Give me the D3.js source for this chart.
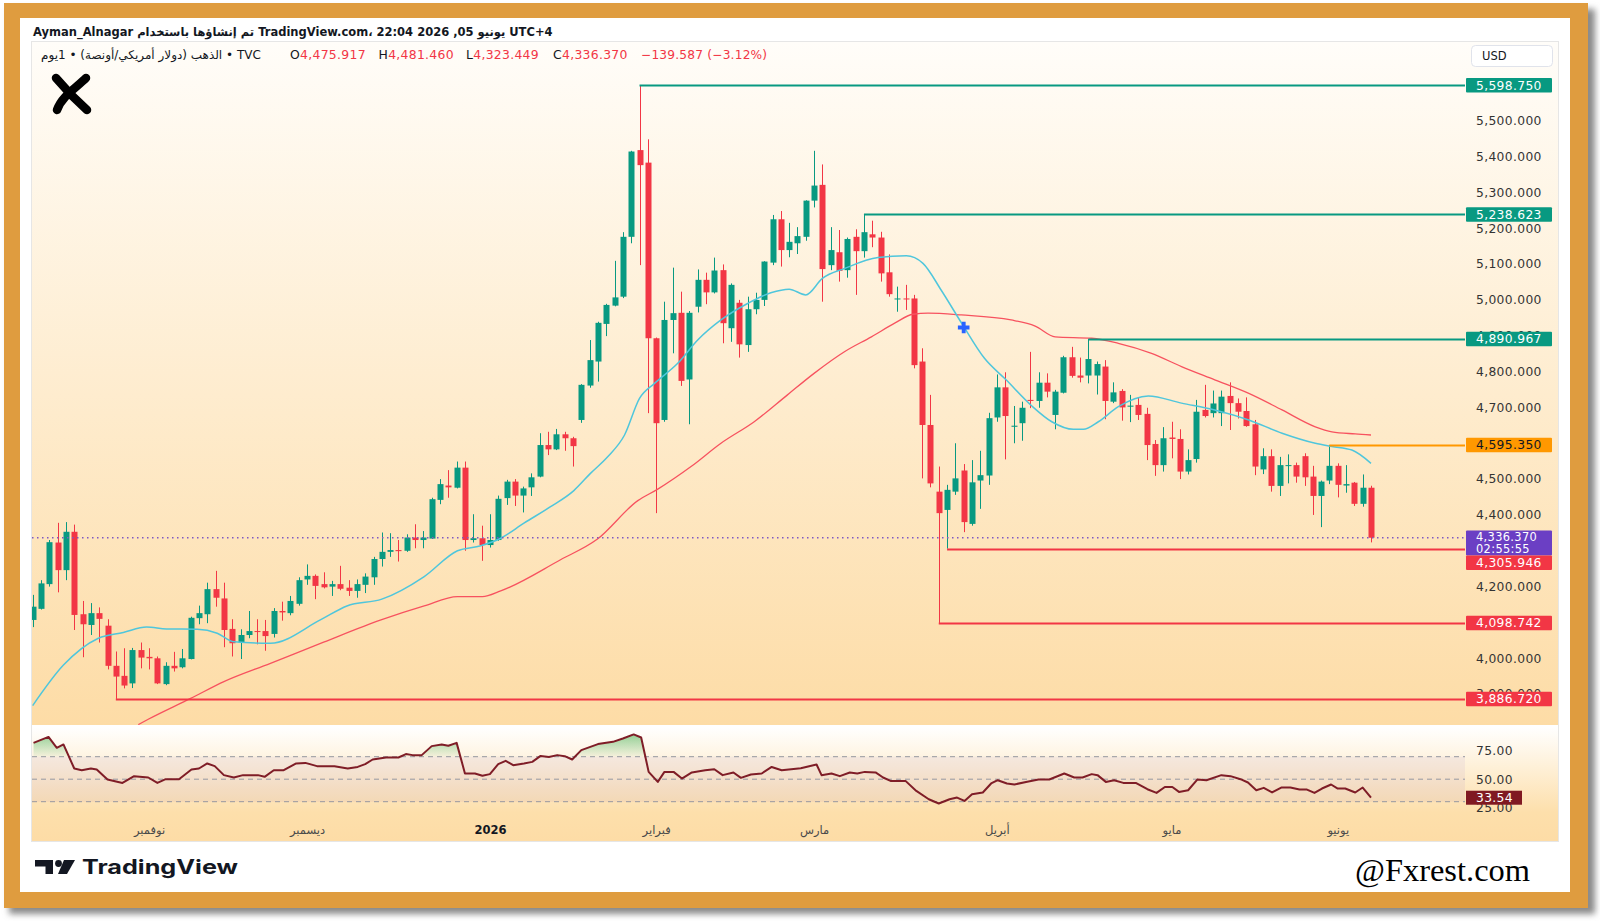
<!DOCTYPE html>
<html>
<head>
<meta charset="utf-8">
<script src="https://cdn.jsdelivr.net/npm/d3@7"></script>
<style>
  body { margin: 0; background: #fff; }
  svg { display: block; font-family: "DejaVu Sans", sans-serif; }
</style>
</head>
<body>
<svg id="chart" width="1600" height="921"></svg>
<script>
// Gold TVC daily candles (index 0 = first visible bar)
const opens = [4107,4138,4207,4323,4246,4353,4123,4093,4126,4091,
  3979,3951,3930,4023,4004,4000,3928,3979,3975,3998,
  4112,4123,4193,4167,4082,4044,4065,4076,4076,4068,
  4132,4126,4152,4220,4230,4207,4200,4207,4197,4188,
  4205,4226,4277,4297,4302,4300,4337,4330,4334,4442,
  4482,4476,4532,4330,4335,4316,4330,4447,4493,4454,
  4477,4507,4595,4583,4625,4614,4665,4761,4828,4933,
  4984,5009,5176,5418,5383,4893,4665,4944,4964,4778,
  4981,5056,5021,5083,4921,4992,4874,4974,5000,5104,
  5225,5139,5158,5176,5277,5321,5097,5133,5083,5176,
  5136,5183,5174,5077,5002,5004,5004,4828,4651,4465,
  4414,4465,4524,4375,4496,4510,4672,4756,4646,4656,
  4721,4718,4769,4679,4741,4840,4789,4789,4789,4814,
  4716,4746,4702,4707,4682,4598,4539,4616,4612,4521,
  4556,4693,4684,4684,4732,4712,4690,4653,4527,4564,
  4481,4537,4539,4564,4507,4453,4496,4537,4482,4490,
  4431,4475.917]
const highs = [4177,4218,4330,4378,4380,4373,4160,4154,4142,4109,
  4019,4028,4029,4044,4028,4005,3989,4018,4026,4116,
  4147,4211,4244,4211,4109,4081,4132,4109,4107,4140,
  4158,4174,4226,4262,4234,4240,4216,4258,4218,4220,
  4237,4283,4351,4349,4330,4346,4374,4355,4448,4500,
  4525,4549,4549,4402,4370,4402,4454,4498,4500,4479,
  4516,4628,4632,4640,4632,4618,4765,4888,4939,4989,
  5109,5189,5416,5598.75,5448,4895,4995,5090,5023,4969,
  5085,5076,5118,5099,5046,5000,5009,5020,5108,5237,
  5248,5215,5203,5278,5416,5378,5203,5195,5174,5197,
  5238.623,5221,5190,5127,5037,5042,5014,4865,4735,4535,
  4484,4600,4542,4553,4579,4685,4792,4798,4704,4716,
  4855,4798,4795,4749,4844,4869,4839,4890.967,4828,4832,
  4770,4751,4735,4728,4699,4609,4645,4660,4639,4583,
  4721,4763,4747,4747,4770,4725,4728,4665,4586,4583,
  4562,4569,4546,4572,4537,4496,4595.35,4544,4539,4492,
  4513,4481.46]
const lows = [4087,4136,4200,4184,4218,4079,4003,4065,4044,3969,
  3886.72,3916,3917,3972,3969,3928,3925,3963,3972,3997,
  4095,4098,4144,4031,4005,3998,4056,4039,4021,4058,
  4105,4120,4147,4205,4165,4195,4174,4190,4174,4169,
  4182,4205,4256,4283,4270,4297,4307,4307,4333,4430,
  4448,4474,4300,4323,4272,4309,4328,4428,4425,4407,
  4453,4505,4567,4581,4579,4535,4657,4755,4772,4899,
  4982,5005,5158,5097,4684,4405,4660,4851,4760,4653,
  4965,4988,5018,4879,4883,4839,4855,4960,4983,5097,
  5093,5119,5128,5165,5258,4995,5083,5051,5062,5014,
  5118,5147,5051,5009,4967,4972,4809,4502,4477,4098.742,
  4305.946,4456,4352,4370,4417,4484,4660,4555,4600,4607,
  4698,4699,4728,4639,4739,4783,4770,4767,4736,4667,
  4712,4663,4659,4665,4553,4509,4521,4558,4500,4513,
  4546,4672,4672,4648,4637,4669,4646,4511,4514,4465,
  4453,4488,4490,4481,4400,4366,4486,4449,4462,4425,
  4423,4323.449]
const closes = [4144,4209,4324,4246,4353,4121,4095,4126,4110,3979,
  3949,3924,4023,4002,4000,3930,3979,3972,4000,4113,
  4126,4193,4169,4079,4042,4065,4076,4074,4062,4132,
  4128,4160,4218,4230,4202,4198,4207,4194,4188,4207,
  4228,4277,4297,4302,4299,4337,4330,4337,4444,4486,
  4477,4532,4330,4335,4316,4330,4445,4493,4454,4474,
  4505,4595,4583,4625,4614,4592,4763,4832,4936,4986,
  5007,5176,5414,5376,4893,4656,4944,4963,4774,4964,
  5056,5021,5082,4935,5042,4876,4974,5000,5107,5225,
  5139,5162,5178,5277,5319,5086,5139,5081,5170,5136,
  5189,5174,5074,5016,5004,5002,4818,4651,4488,4405,
  4470,4502,4380,4491,4511,4670,4756,4676,4649,4699,
  4718,4769,4744,4744,4840,4788,4783,4835,4821,4718,
  4742,4700,4705,4679,4595,4539,4614,4612,4521,4553,
  4688,4676,4711,4730,4712,4688,4648,4535,4564,4481,
  4539,4539,4507,4505,4453,4493,4537,4484,4486,4431,
  4475.957,4336.37]

// moving averages as [bar index, value]
const ma_fast = [[0,3868],[3.7,3981],[7.9,4056],[10.9,4072],[13.7,4087],[16.1,4082],[19.8,4081],[22.2,4070],
  [24.2,4046],[28.6,4042],[34.6,4107],[37.8,4146],[42,4165],[47.1,4228],[51.1,4300],[53.9,4314],[56.3,4335],
  [59.1,4377],[62.3,4423],[65.1,4468],[67.1,4516],[69.2,4563],[71.2,4623],[73,4725],[74.8,4767],[77.6,4823],
  [80,4888],[82.8,4944],[86,4990],[88.8,5020],[91,5030],[93,5014],[95,5060],[97.7,5088],[101.7,5118],
  [105.1,5123],[107.1,5102],[109.3,5027],[111.7,4937],[114.5,4837],[117.1,4777],[120.2,4704],[122.6,4660],
  [125.2,4639],[126.4,4639],[128.2,4660],[130.6,4702],[134.2,4732],[138.2,4712],[142.2,4693],[146.3,4665],
  [150.3,4628],[154.3,4600],[156.3,4591],[158.7,4581],[161,4544]]
const ma_slow = [[12.7,3815],[13.9,3830],[19,3888],[23,3935],[28.6,3986],[35,4045],[41.9,4107],[47.1,4146],
  [51.1,4172],[54.1,4172],[56.3,4188],[63.5,4275],[67.9,4332],[72.8,4440],[75.2,4472],[79.2,4535],[82.8,4600],
  [86.8,4660],[90.8,4735],[94,4795],[97.7,4856],[100.9,4897],[103.7,4935],[105.9,4960],[107.7,4963],
  [111.7,4958],[117.7,4944],[120.6,4927],[123,4897],[127.4,4893],[130.6,4879],[134.6,4851],[138.2,4814],
  [142.2,4777],[146.3,4739],[150.3,4693],[154.3,4646],[156.3,4632],[159.1,4626],[161,4623]]

// RSI as [bar index, value]
const rsi = [[0.1,82.3],[1.9,87.6],[2.9,77.9],[3.7,80.9],[5,59.5],[5.9,58],[7,59.5],[7.7,58.6],[9,49.7],
  [10.8,46.7],[12.2,52.7],[13.9,51.5],[15,46.7],[16,50],[17.6,50],[19.1,58.6],[20,59.5],[21,64],[21.9,61.6],
  [23,53.6],[24.2,51.5],[25.3,53.6],[27.1,53.6],[27.9,52.1],[29,58],[30.2,58],[31.7,64],[32.8,64.5],
  [34.2,61.6],[36.3,61.6],[37.9,59.5],[39.1,60.9],[40,63.4],[40.9,67.5],[42.5,69.3],[44,69.3],[44.9,72.3],
  [45.7,71.4],[46.8,71.4],[48,79.4],[49.2,80.9],[50,79.7],[51,82.3],[52,55.1],[53.2,55.1],[54.1,53],
  [55,54.5],[56,63.4],[56.9,66.3],[57.8,62.5],[59.1,64],[60.1,65.4],[61.1,70.7],[62.1,69.8],[63.1,71.4],
  [64,70.5],[64.9,67.5],[66,75.8],[68,81.2],[69.8,83.2],[71,86.2],[72.3,89.8],[73.2,87.1],[74.1,56.5],
  [75.2,47.6],[76,56.5],[77.1,56.5],[78.1,50.6],[79.3,56],[80.9,58],[82,58.9],[83,53.6],[84.3,56],
  [85.2,51.2],[86.4,54.2],[87.7,55.1],[88.9,60.9],[90.1,58],[92.4,59.8],[94.3,63.1],[94.9,53.6],[96.1,55.1],
  [97.1,52.7],[98.3,56],[99.2,55.1],[100.1,56.5],[101.4,56],[102.3,51.5],[103.2,48.5],[105,48.5],
  [106.3,39.6],[107.8,32.2],[109,28.4],[110.3,32.2],[111.2,33.7],[112.1,30.7],[113,36.6],[114.3,38.2],
  [115.3,46.2],[116.1,49.1],[117.2,46.2],[118.1,45.3],[119.5,47.6],[121,49.7],[122.3,49.7],[124.1,55.1],
  [125.3,51.5],[126.3,51.5],[127.4,54.5],[128.1,53.6],[129.1,47.6],[130.1,49.1],[131.2,46.7],[132.7,46.7],
  [134.1,41.1],[135.2,37.8],[136.2,43.1],[137.1,43.1],[137.9,38.7],[139,40.2],[140.1,49.7],[141.2,49.1],
  [143,53.6],[144.1,52.7],[145.3,50],[146.2,47.1],[147.2,40.2],[148.1,42.3],[149.1,38.2],[150.2,42.6],
  [151.3,42.6],[152.4,40.8],[153.3,40.8],[154.2,37.8],[155.1,41.7],[156.2,45.3],[157,41.7],[157.9,41.7],
  [159.1,38.2],[160,42.6],[161,33.54]]

// horizontal levels drawn on the chart
const level_prices = [5598.75, 5238.623, 4890.967, 4595.35, 4305.946, 4098.742, 3886.72]
const level_start = [73, 100, 127, 156, 110, 109, 10]
const level_type = ['high', 'high', 'high', 'mid', 'low', 'low', 'low']

// price ticks that show on the axis (the rest sit under the level labels)
const price_ticks = [3900,4000,4200,4400,4500,4700,4800,4900,5000,5100,5200,5300,5400,5500]
const rsi_ticks = [25, 50, 75]
const rsi_bands = [70, 50, 30]
const month_idx = [14, 33, 55, 75, 94, 116, 137, 157]
const month_labels = ['نوفمبر', 'ديسمبر', '2026', 'فبراير', 'مارس', 'أبريل', 'مايو', 'يونيو']
const cross_point = [112, 4923]
const countdown = '02:55:55'

const up = '#089981', down = '#F23645'
const level_color = { high: '#089981', mid: '#FF9800', low: '#F23645' }

const svg = d3.select('#chart')
const defs = svg.append('defs')

const plot = { left: 32, right: 1465, top: 42, bottom: 725 }
const x = d3.scaleLinear().domain([0, 161]).range([32.7, 1371])
const y = d3.scaleLinear().domain([4000, 5500]).range([658.3, 120.7])
const y_rsi = d3.scaleLinear().domain([30, 70]).range([801.7, 756.7])
const fmt = d3.format(',.3f')

// ---- frame ----
defs.append('filter').attr('id', 'shadow').attr('x', -0.05).attr('y', -0.05).attr('width', 1.1).attr('height', 1.1)
  .append('feGaussianBlur').attr('stdDeviation', 3)
svg.append('rect').attr('x', 9).attr('y', 9).attr('width', 1586).attr('height', 905)
  .attr('fill', '#8a8a8a').attr('filter', 'url(#shadow)')
svg.append('rect').attr('x', 4).attr('y', 3).attr('width', 1584).attr('height', 905).attr('fill', '#DF9C3F')
svg.append('rect').attr('x', 20).attr('y', 18).attr('width', 1550).attr('height', 874).attr('fill', '#fff')

// ---- pane backgrounds ----
const g1 = defs.append('linearGradient').attr('id', 'price_bg').attr('x1', 0).attr('y1', 0).attr('x2', 0).attr('y2', 1)
g1.append('stop').attr('offset', 0).attr('stop-color', '#FFFDF9')
g1.append('stop').attr('offset', 1).attr('stop-color', '#FDDCA6')
const g2 = defs.append('linearGradient').attr('id', 'rsi_bg').attr('x1', 0).attr('y1', 0).attr('x2', 0).attr('y2', 1)
g2.append('stop').attr('offset', 0).attr('stop-color', '#FFFFFF')
g2.append('stop').attr('offset', 0.75).attr('stop-color', '#FDDFAB')
g2.append('stop').attr('offset', 1).attr('stop-color', '#FDDCA6')

svg.append('rect').attr('x', 32).attr('y', 42).attr('width', 1526).attr('height', 683).attr('fill', 'url(#price_bg)')
svg.append('rect').attr('x', 32).attr('y', 727).attr('width', 1526).attr('height', 114).attr('fill', 'url(#rsi_bg)')
svg.append('rect').attr('x', 31.5).attr('y', 41.5).attr('width', 1527).attr('height', 800)
  .attr('fill', 'none').attr('stroke', '#E6E6E6')

defs.append('clipPath').attr('id', 'price_clip').append('rect')
  .attr('x', plot.left).attr('y', plot.top).attr('width', plot.right - plot.left).attr('height', plot.bottom - plot.top)
defs.append('clipPath').attr('id', 'rsi_clip').append('rect')
  .attr('x', plot.left).attr('y', 727).attr('width', plot.right - plot.left).attr('height', 90)

// ---- candles ----
const bars = closes.map((c, i) => ({ i, open: opens[i], high: highs[i], low: lows[i], close: c }))
const price_g = svg.append('g').attr('clip-path', 'url(#price_clip)')

price_g.append('g').selectAll('line').data(bars).join('line')
  .attr('x1', d => Math.round(x(d.i)) + 0.5).attr('x2', d => Math.round(x(d.i)) + 0.5)
  .attr('y1', d => y(d.high)).attr('y2', d => y(d.low))
  .attr('stroke', d => d.close >= d.open ? up : down)
  .attr('stroke-width', 1)
price_g.append('g').selectAll('rect').data(bars).join('rect')
  .attr('x', d => Math.round(x(d.i)) - 2.5).attr('width', 6)
  .attr('y', d => y(Math.max(d.open, d.close)))
  .attr('height', d => Math.max(1, Math.abs(y(d.open) - y(d.close))))
  .attr('fill', d => d.close >= d.open ? up : down)

// ---- moving averages ----
const ma_line = d3.line().x(d => x(d[0])).y(d => y(d[1])).curve(d3.curveMonotoneX)
price_g.append('path').datum(ma_slow).attr('d', ma_line)
  .attr('fill', 'none').attr('stroke', '#F7525F').attr('stroke-width', 1.3)
price_g.append('path').datum(ma_fast).attr('d', ma_line)
  .attr('fill', 'none').attr('stroke', '#4FC6DC').attr('stroke-width', 1.5)

// ---- levels ----
level_prices.forEach((p, k) => {
  price_g.append('line')
    .attr('x1', x(level_start[k])).attr('x2', plot.right)
    .attr('y1', Math.round(y(p)) + 0.5).attr('y2', Math.round(y(p)) + 0.5)
    .attr('stroke', level_color[level_type[k]]).attr('stroke-width', 2)
})

// current price dotted line
const last = bars[bars.length - 1]
price_g.append('line')
  .attr('x1', plot.left).attr('x2', plot.right)
  .attr('y1', y(last.close)).attr('y2', y(last.close))
  .attr('stroke', '#7E57C2').attr('stroke-width', 1.3).attr('stroke-dasharray', '1.5,3.5')

// blue cross drawing
price_g.append('path')
  .attr('d', d3.symbol(d3.symbolCross, 75)())
  .attr('transform', `translate(${x(cross_point[0])},${y(cross_point[1])})`)
  .attr('fill', '#2962FF')

// ---- price axis ----
const axis_x = 1476
svg.append('g')
  .selectAll('text').data(price_ticks).join('text')
  .attr('x', axis_x).attr('y', d => y(d)).attr('dy', '0.35em')
  .attr('font-size', 12.3).attr('letter-spacing', 0.35).attr('fill', '#333')
  .text(d => fmt(d))

// labels with simple overlap push-down
const labels = level_prices.map((p, k) => ({ y: y(p), lines: [fmt(p)], fill: level_color[level_type[k]],
  color: level_type[k] === 'mid' ? '#131722' : '#fff' }))
labels.push({ y: y(last.close), lines: [fmt(last.close), countdown], fill: '#6B3FC4', color: '#fff' })
labels.sort((a, b) => a.y - b.y)
let prev_bottom = -Infinity
labels.forEach(l => {
  const h = l.lines.length === 1 ? 14.5 : 25
  l.top = Math.max(l.y - 7.2, prev_bottom)
  l.h = h
  prev_bottom = l.top + h
})
const lab_g = svg.append('g')
labels.forEach(l => {
  lab_g.append('rect').attr('x', 1466).attr('y', l.top).attr('width', 86).attr('height', l.h)
    .attr('fill', l.fill).attr('rx', 1)
  const two = l.lines.length > 1
  l.lines.forEach((t, j) => {
    lab_g.append('text').attr('x', axis_x).attr('y', l.top + (two ? 6.6 + j * 12 : 7.2)).attr('dy', '0.35em')
      .attr('font-size', two ? 11.4 : 12.3).attr('letter-spacing', 0.35).attr('fill', l.color).text(t)
  })
})

// USD box
svg.append('rect').attr('x', 1471.5).attr('y', 45.5).attr('width', 81).attr('height', 21).attr('rx', 4)
  .attr('fill', '#fff').attr('stroke', '#E0E3EB')
svg.append('text').attr('x', 1482).attr('y', 60).attr('font-size', 11.5).attr('fill', '#131722').text('USD')

// ---- RSI pane ----
const rsi_g = svg.append('g').attr('clip-path', 'url(#rsi_clip)')
rsi_g.append('rect').attr('x', plot.left).attr('width', plot.right - plot.left)
  .attr('y', y_rsi(70)).attr('height', y_rsi(30) - y_rsi(70))
  .attr('fill', '#7E57C2').attr('fill-opacity', 0.08)
rsi_g.selectAll('line.band').data(rsi_bands).join('line')
  .attr('x1', plot.left).attr('x2', plot.right)
  .attr('y1', d => y_rsi(d)).attr('y2', d => y_rsi(d))
  .attr('stroke', '#9598A1').attr('stroke-dasharray', '5,4').attr('stroke-width', 1)

const gg = defs.append('linearGradient').attr('id', 'ob_fill').attr('gradientUnits', 'userSpaceOnUse')
  .attr('x1', 0).attr('x2', 0).attr('y1', y_rsi(90)).attr('y2', y_rsi(70))
gg.append('stop').attr('offset', 0).attr('stop-color', '#4CAF50').attr('stop-opacity', 0.6)
gg.append('stop').attr('offset', 1).attr('stop-color', '#4CAF50').attr('stop-opacity', 0.05)
const gr = defs.append('linearGradient').attr('id', 'os_fill').attr('gradientUnits', 'userSpaceOnUse')
  .attr('x1', 0).attr('x2', 0).attr('y1', y_rsi(30)).attr('y2', y_rsi(20))
gr.append('stop').attr('offset', 0).attr('stop-color', '#F23645').attr('stop-opacity', 0.05)
gr.append('stop').attr('offset', 1).attr('stop-color', '#F23645').attr('stop-opacity', 0.6)
defs.append('clipPath').attr('id', 'ob_clip').append('rect')
  .attr('x', plot.left).attr('y', 700).attr('width', plot.right - plot.left).attr('height', y_rsi(70) - 700)
defs.append('clipPath').attr('id', 'os_clip').append('rect')
  .attr('x', plot.left).attr('y', y_rsi(30)).attr('width', plot.right - plot.left).attr('height', 40)

const area_ob = d3.area().x(d => x(d[0])).y0(y_rsi(70)).y1(d => y_rsi(d[1]))
const area_os = d3.area().x(d => x(d[0])).y0(y_rsi(30)).y1(d => y_rsi(d[1]))
rsi_g.append('g').attr('clip-path', 'url(#ob_clip)').append('path').datum(rsi).attr('d', area_ob).attr('fill', 'url(#ob_fill)')
rsi_g.append('g').attr('clip-path', 'url(#os_clip)').append('path').datum(rsi).attr('d', area_os).attr('fill', 'url(#os_fill)')

rsi_g.append('path').datum(rsi)
  .attr('d', d3.line().x(d => x(d[0])).y(d => y_rsi(d[1])))
  .attr('fill', 'none').attr('stroke', '#7F1D27').attr('stroke-width', 2).attr('stroke-linejoin', 'round')

svg.append('g').selectAll('text').data(rsi_ticks).join('text')
  .attr('x', axis_x).attr('y', d => y_rsi(d)).attr('dy', '0.35em')
  .attr('font-size', 12.3).attr('letter-spacing', 0.35).attr('fill', '#333')
  .text(d => d3.format('.2f')(d))
const rsi_last = rsi[rsi.length - 1][1]
svg.append('rect').attr('x', 1466).attr('y', y_rsi(rsi_last) - 7).attr('width', 56).attr('height', 14)
  .attr('fill', '#801922')
svg.append('text').attr('x', axis_x).attr('y', y_rsi(rsi_last)).attr('dy', '0.35em')
  .attr('font-size', 12.3).attr('letter-spacing', 0.35).attr('fill', '#fff').text(d3.format('.2f')(rsi_last))

// ---- time axis ----
const x_axis = d3.axisBottom(x).tickValues(month_idx).tickFormat((d, i) => month_labels[i]).tickSize(0).tickPadding(0)
const xg = svg.append('g').attr('transform', 'translate(0,826)').call(x_axis)
xg.select('.domain').remove()
xg.selectAll('text').attr('font-size', 11.5).attr('font-family', '"DejaVu Sans", sans-serif')
  .attr('fill', (d, i) => month_labels[i] === '2026' ? '#131722' : '#4A4A4A')
  .attr('font-weight', (d, i) => month_labels[i] === '2026' ? 'bold' : 'normal')

// ---- header ----
svg.append('text').attr('x', 33).attr('y', 35.5).attr('font-size', 11.5).attr('fill', '#131722')
  .attr('font-weight', 'bold')
  .text('Ayman_Alnagar تم إنشاؤها باستخدام TradingView.com، 22:04 2026 ,05 يونيو UTC+4')

svg.append('text').attr('x', 41).attr('y', 58.5).attr('font-size', 12).attr('fill', '#131722')
  .text('الذهب (دولار أمريكي/أونصة) • 1يوم • TVC')
const ohlc = [['O', last.open, 290], ['H', last.high, 378.5], ['L', last.low, 466], ['C', last.close, 553]]
ohlc.forEach(([k, v, px]) => {
  const t = svg.append('text').attr('x', px).attr('y', 58.5).attr('font-size', 12.4).attr('letter-spacing', 0.3)
  t.append('tspan').attr('fill', '#131722').text(k)
  t.append('tspan').attr('fill', down).text(fmt(v))
})
const change = last.close - bars[bars.length - 2].close
const pct = change / bars[bars.length - 2].close
svg.append('text').attr('x', 641).attr('y', 58.5).attr('font-size', 12.2).attr('letter-spacing', 0.2).attr('fill', down)
  .text(`${fmt(change).replace('-', '−')} (${d3.format('.2%')(pct).replace('-', '−')})`)

// X logo
svg.append('path').attr('d', 'M56,78 C66,90 78,102 87,110')
  .attr('fill', 'none').attr('stroke', '#000').attr('stroke-width', 8.5).attr('stroke-linecap', 'round')
svg.append('path').attr('d', 'M86,78 C76,88 62,96 57,110')
  .attr('fill', 'none').attr('stroke', '#000').attr('stroke-width', 8.5).attr('stroke-linecap', 'round')

// ---- footer ----
svg.append('path').attr('d', 'M35,860 H53 V874 H45.5 V866.5 H35 Z').attr('fill', '#131722')
svg.append('circle').attr('cx', 58.5).attr('cy', 863.5).attr('r', 3.4).attr('fill', '#131722')
svg.append('path').attr('d', 'M64,860 H75 L67,874 H58 Z').attr('fill', '#131722')
svg.append('text').attr('x', 82).attr('y', 874).attr('font-family', 'Inter, Roboto, sans-serif')
  .attr('font-size', 20).attr('font-weight', 'bold').attr('fill', '#131722')
  .attr('textLength', 156).attr('lengthAdjust', 'spacingAndGlyphs').text('TradingView')
svg.append('text').attr('x', 1355).attr('y', 881).attr('font-family', '"Liberation Serif", serif')
  .attr('font-size', 31).attr('fill', '#000')
  .attr('textLength', 175).attr('lengthAdjust', 'spacingAndGlyphs').text('@Fxrest.com')
</script>
</body>
</html>
